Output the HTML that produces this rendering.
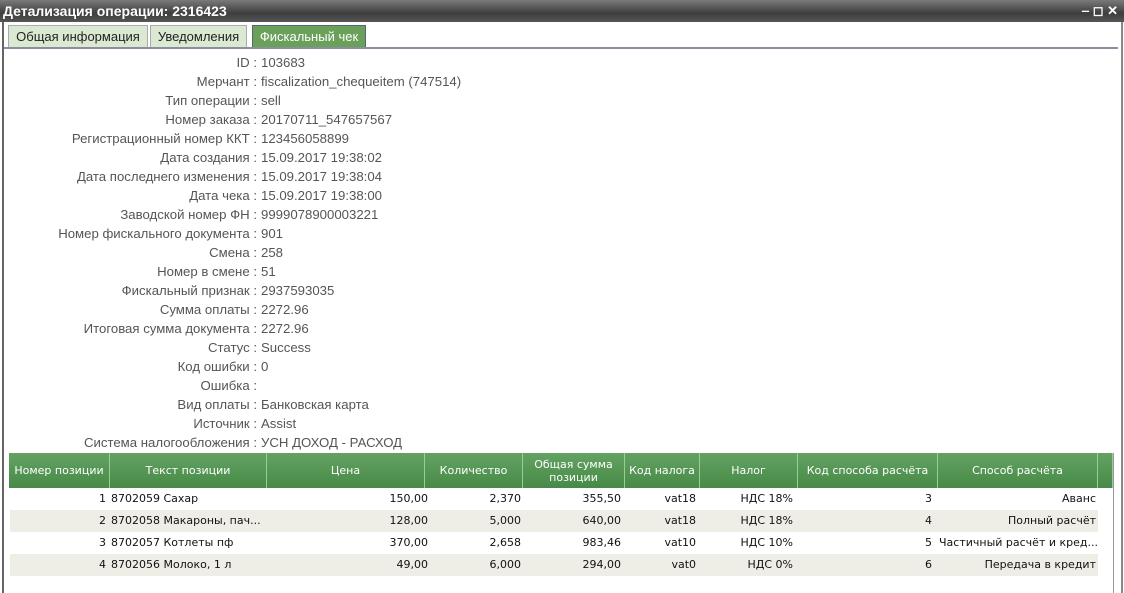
<!DOCTYPE html>
<html><head><meta charset="utf-8"><style>
body{margin:0;width:1124px;height:593px;background:#fff;position:relative;overflow:hidden;font-family:"Liberation Sans",Arial,sans-serif}
.title{position:absolute;left:0;top:0;width:1124px;height:22px;background:linear-gradient(#7a7a7a,#3e3e3e 60%,#555);color:#fff;font-weight:bold;font-size:14px;line-height:22px;padding-left:3px;box-sizing:border-box}
.win{position:absolute;left:2px;top:22px;width:1117px;height:571px;border-left:2px solid #666;border-right:2px solid #888;background:#fff}
.tab{position:absolute;top:25px;height:22px;border:1px solid #aaa;background:#dce9d2;font-size:13px;line-height:22px;text-align:center;color:#222}
.tab.act{background:#6aa05a;color:#fff;border-color:#567}
.line{position:absolute;left:4px;top:47px;width:1114px;height:2px;background:#8890a0}
.row{position:absolute;left:0;width:1124px;font-size:13.2px;color:#555;height:19px;line-height:19px}
.row .l{position:absolute;right:867px;text-align:right;white-space:nowrap}
.row .v{position:absolute;left:261px;white-space:nowrap}
.hdr{position:absolute;top:453px;height:35px;background:linear-gradient(#63a263,#478a47);color:#fff;font-family:"DejaVu Sans",sans-serif;font-size:11px;text-align:center;display:flex;align-items:center;justify-content:center;border-right:1px solid #9c9;box-sizing:border-box;line-height:13px}
.tr{position:absolute;left:10px;width:1088px;height:22px;font-family:"DejaVu Sans",sans-serif;font-size:11px;color:#111;line-height:22px}
.tr span{position:absolute;white-space:nowrap}
</style></head><body>
<div class="title">Детализация операции: 2316423<span style="position:absolute;right:6px;top:0;font-size:13px">‒ ◻ ✕</span></div>
<div class="win"></div>
<div class="tab" style="left:8px;width:138px">Общая информация</div>
<div class="tab" style="left:150px;width:95px">Уведомления</div>
<div class="tab act" style="left:252px;width:112px">Фискальный чек</div>
<div class="line"></div>
<div class="row" style="top:53px"><span class="l">ID :</span><span class="v">103683</span></div>
<div class="row" style="top:72px"><span class="l">Мерчант :</span><span class="v">fiscalization_chequeitem (747514)</span></div>
<div class="row" style="top:91px"><span class="l">Тип операции :</span><span class="v">sell</span></div>
<div class="row" style="top:110px"><span class="l">Номер заказа :</span><span class="v">20170711_547657567</span></div>
<div class="row" style="top:129px"><span class="l">Регистрационный номер ККТ :</span><span class="v">123456058899</span></div>
<div class="row" style="top:148px"><span class="l">Дата создания :</span><span class="v">15.09.2017 19:38:02</span></div>
<div class="row" style="top:167px"><span class="l">Дата последнего изменения :</span><span class="v">15.09.2017 19:38:04</span></div>
<div class="row" style="top:186px"><span class="l">Дата чека :</span><span class="v">15.09.2017 19:38:00</span></div>
<div class="row" style="top:205px"><span class="l">Заводской номер ФН :</span><span class="v">9999078900003221</span></div>
<div class="row" style="top:224px"><span class="l">Номер фискального документа :</span><span class="v">901</span></div>
<div class="row" style="top:243px"><span class="l">Смена :</span><span class="v">258</span></div>
<div class="row" style="top:262px"><span class="l">Номер в смене :</span><span class="v">51</span></div>
<div class="row" style="top:281px"><span class="l">Фискальный признак :</span><span class="v">2937593035</span></div>
<div class="row" style="top:300px"><span class="l">Сумма оплаты :</span><span class="v">2272.96</span></div>
<div class="row" style="top:319px"><span class="l">Итоговая сумма документа :</span><span class="v">2272.96</span></div>
<div class="row" style="top:338px"><span class="l">Статус :</span><span class="v">Success</span></div>
<div class="row" style="top:357px"><span class="l">Код ошибки :</span><span class="v">0</span></div>
<div class="row" style="top:376px"><span class="l">Ошибка :</span><span class="v"></span></div>
<div class="row" style="top:395px"><span class="l">Вид оплаты :</span><span class="v">Банковская карта</span></div>
<div class="row" style="top:414px"><span class="l">Источник :</span><span class="v">Assist</span></div>
<div class="row" style="top:433px"><span class="l">Система налогообложения :</span><span class="v">УСН ДОХОД - РАСХОД</span></div>

<div class="hdr" style="left:9px;width:101px">Номер позиции</div>
<div class="hdr" style="left:110px;width:157px">Текст позиции</div>
<div class="hdr" style="left:267px;width:158px">Цена</div>
<div class="hdr" style="left:425px;width:98px">Количество</div>
<div class="hdr" style="left:523px;width:102px">Общая сумма<br>позиции</div>
<div class="hdr" style="left:625px;width:75px">Код налога</div>
<div class="hdr" style="left:700px;width:98px">Налог</div>
<div class="hdr" style="left:798px;width:140px">Код способа расчёта</div>
<div class="hdr" style="left:938px;width:160px">Способ расчёта</div>
<div class="hdr" style="left:1098px;width:15px"></div>

<div class="tr" style="top:488px;background:#fff"><span style="right:992px">1</span><span style="left:101px">8702059 Сахар</span><span style="right:670px">150,00</span><span style="right:577px">2,370</span><span style="right:477px">355,50</span><span style="right:402px">vat18</span><span style="right:305px">НДС 18%</span><span style="right:166px">3</span><span style="right:2px">Аванс</span></div>
<div class="tr" style="top:510px;background:#efeee6"><span style="right:992px">2</span><span style="left:101px">8702058 Макароны, пач...</span><span style="right:670px">128,00</span><span style="right:577px">5,000</span><span style="right:477px">640,00</span><span style="right:402px">vat18</span><span style="right:305px">НДС 18%</span><span style="right:166px">4</span><span style="right:2px">Полный расчёт</span></div>
<div class="tr" style="top:532px;background:#fff"><span style="right:992px">3</span><span style="left:101px">8702057 Котлеты пф</span><span style="right:670px">370,00</span><span style="right:577px">2,658</span><span style="right:477px">983,46</span><span style="right:402px">vat10</span><span style="right:305px">НДС 10%</span><span style="right:166px">5</span><span style="left:929px">Частичный расчёт и кред...</span></div>
<div class="tr" style="top:554px;background:#efeee6"><span style="right:992px">4</span><span style="left:101px">8702056 Молоко, 1 л</span><span style="right:670px">49,00</span><span style="right:577px">6,000</span><span style="right:477px">294,00</span><span style="right:402px">vat0</span><span style="right:305px">НДС 0%</span><span style="right:166px">6</span><span style="right:2px">Передача в кредит</span></div>
<div style="position:absolute;left:1113px;top:453px;width:1px;height:140px;background:#999"></div>
</body></html>
